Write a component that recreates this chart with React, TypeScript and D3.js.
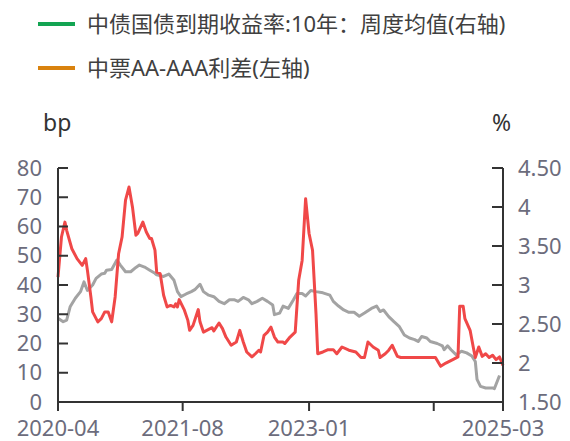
import React from 'react';
import * as d3 from 'd3';

// weekly series, week index counted from 2020-04-03
const startDate = new Date(2020, 3, 3);

// 中票AA-AAA利差 (bp, left axis)
const spreadWeek = [0, 2, 4, 5, 8, 11, 14, 16, 17, 19, 20, 23, 25, 27, 29, 31, 33, 35, 37, 39, 41, 43, 45, 46, 49, 51, 53, 54, 56, 57, 59, 61, 63, 65, 67, 68, 69, 70, 73, 75, 76, 78, 81, 82, 84, 87, 89, 90, 93, 95, 97, 100, 103, 105, 107, 109, 112, 114, 116, 117, 119, 121, 123, 125, 127, 130, 131, 134, 137, 139, 141, 143, 145, 147, 149, 150, 153, 156, 159, 161, 164, 168, 172, 175, 177, 179, 182, 185, 186, 189, 191, 193, 196, 198, 218, 221, 224, 228, 231, 232, 234, 235, 238, 240, 241, 243, 245, 247, 249, 251, 253, 255, 257];
const spreadBp = [42.7, 56.4, 61.5, 58.7, 52.4, 49, 46.7, 49, 45, 35.9, 30.8, 27.4, 28.5, 30.8, 30.8, 27.4, 35.9, 50.7, 56.4, 69, 73.5, 66.7, 57, 57.6, 61.5, 58.1, 55.9, 55.9, 51.9, 44.4, 43.9, 36.5, 32.5, 33, 32.5, 33.6, 32.5, 35, 31.4, 27.9, 24.5, 26.2, 31.6, 27.4, 23.9, 24.8, 25.4, 24.3, 27, 25.1, 22.2, 19.4, 20.5, 24.5, 20.5, 17.1, 15.4, 16.5, 17.7, 17.1, 22.8, 23.9, 25.6, 22.2, 20.5, 20.5, 20, 22.2, 23.9, 41.6, 48.4, 69.5, 57.6, 51.9, 30.2, 16.5, 17.1, 17.9, 17.9, 16.5, 18.8, 17.7, 17.1, 15.2, 15.2, 20.5, 18.8, 17.7, 15.2, 16.5, 17.7, 19.4, 15.6, 15.2, 15.2, 12.2, 13.3, 14.5, 15.4, 32.7, 32.7, 28.5, 24.5, 18.2, 15.2, 18.8, 15.6, 16.5, 15.2, 16, 14.5, 15.4, 12.5];

// 中债国债到期收益率:10年 周度均值 (%, right axis)
const yieldWeek = [0, 3, 5, 7, 10, 13, 15, 17, 20, 22, 25, 27, 28, 31, 34, 36, 39, 42, 45, 47, 50, 53, 56, 57, 61, 64, 67, 69, 71, 74, 77, 79, 82, 84, 87, 90, 93, 96, 99, 102, 104, 107, 110, 112, 115, 118, 121, 124, 125, 128, 130, 133, 136, 138, 141, 143, 146, 149, 153, 157, 159, 162, 165, 168, 171, 174, 177, 181, 184, 186, 188, 191, 194, 197, 200, 203, 206, 208, 210, 213, 215, 219, 222, 223, 225, 227, 230, 233, 236, 239, 241, 242, 244, 247, 251, 252, 255];
const yieldPct = [2.575, 2.53, 2.55, 2.72, 2.83, 2.915, 3.04, 2.93, 3.0, 3.085, 3.14, 3.15, 3.19, 3.2, 3.32, 3.255, 3.17, 3.17, 3.225, 3.255, 3.23, 3.19, 3.15, 3.13, 3.11, 3.14, 3.06, 2.915, 2.85, 2.885, 2.915, 2.94, 3.01, 2.915, 2.87, 2.85, 2.79, 2.76, 2.81, 2.81, 2.79, 2.84, 2.81, 2.76, 2.79, 2.83, 2.79, 2.745, 2.62, 2.64, 2.73, 2.7, 2.81, 2.89, 2.89, 2.86, 2.93, 2.915, 2.9, 2.87, 2.79, 2.73, 2.68, 2.65, 2.65, 2.6, 2.64, 2.7, 2.73, 2.66, 2.68, 2.595, 2.53, 2.47, 2.36, 2.32, 2.3, 2.275, 2.34, 2.32, 2.275, 2.25, 2.22, 2.17, 2.22, 2.17, 2.105, 2.15, 2.13, 2.09, 2.02, 1.79, 1.7, 1.68, 1.68, 1.67, 1.84];

const xTickWeeks = [0, 72, 145, 217, 257];
const xTickShown = [true, true, true, false, true];
const leftTicks = [0, 10, 20, 30, 40, 50, 60, 70, 80];
const rightTicks = [1.5, 2, 2.5, 3, 3.5, 4, 4.5];
const rightTickLabels = ['1.50', '2', '2.50', '3', '3.50', '4', '4.50'];

const legendItems = [
  { label: '中债国债到期收益率:10年：周度均值(右轴)', color: '#13a452' },
  { label: '中票AA-AAA利差(左轴)', color: '#d9820e' },
];

const weekDate = (w: number) => d3.timeWeek.offset(startDate, w);

export default function App() {
  const width = 570;
  const height = 441;
  const margin = { top: 168, right: 67, bottom: 39, left: 58 };
  const font = '"Noto Sans", "Noto Sans CJK SC", sans-serif';
  const tickColor = '#6c6c7c';

  const x = d3
    .scaleTime()
    .domain([startDate, weekDate(257)])
    .range([margin.left, width - margin.right]);
  const yLeft = d3.scaleLinear().domain([0, 80]).range([height - margin.bottom, margin.top]);
  const yRight = d3.scaleLinear().domain([1.5, 4.5]).range([height - margin.bottom, margin.top]);

  const spreadLine = d3
    .line<number>()
    .x((w) => x(weekDate(w)))
    .y((_, i) => yLeft(spreadBp[i]));
  const yieldLine = d3
    .line<number>()
    .x((w) => x(weekDate(w)))
    .y((_, i) => yRight(yieldPct[i]));

  const fmt = d3.timeFormat('%Y-%m');
  const x0 = margin.left;
  const x1 = width - margin.right;
  const yb = height - margin.bottom;

  return (
    <svg width={width} height={height} style={{ position: 'absolute', left: 0, top: 0 }} fontFamily={font}>
      <rect width={width} height={height} fill="white" />

      {/* legend */}
      {legendItems.map((d, i) => (
        <g key={d.label} transform={`translate(38,${24 + i * 44})`}>
          <line x1={0} x2={37} y1={0} y2={0} stroke={d.color} strokeWidth={4} />
          <text x={49} y={0} dy="0.35em" fontSize={22} fill="#404040">
            {d.label}
          </text>
        </g>
      ))}

      {/* axis titles */}
      <text x={43} y={131} fontSize={23} fill="#333">bp</text>
      <text x={492} y={131} fontSize={23} fill="#333">%</text>

      {/* series */}
      <path d={yieldLine(yieldWeek) ?? ''} fill="none" stroke="#a3a3a3" strokeWidth={3} strokeLinejoin="round" />
      <path d={spreadLine(spreadWeek) ?? ''} fill="none" stroke="#f04848" strokeWidth={3} strokeLinejoin="round" />

      {/* left axis */}
      <line x1={x0} x2={x0} y1={margin.top} y2={yb} stroke="#333" strokeWidth={2} />
      {leftTicks.map((t) => (
        <g key={t}>
          <line x1={x0} x2={x0 + 10} y1={yLeft(t)} y2={yLeft(t)} stroke="#333" strokeWidth={2} />
          <text x={x0 - 16} y={yLeft(t)} dy="0.35em" textAnchor="end" fontSize={22} fill={tickColor}>
            {t}
          </text>
        </g>
      ))}

      {/* right axis */}
      <line x1={x1} x2={x1} y1={margin.top} y2={yb} stroke="#333" strokeWidth={2} />
      {rightTicks.map((t, i) => (
        <g key={t}>
          <line x1={x1 - 11} x2={x1} y1={yRight(t)} y2={yRight(t)} stroke="#333" strokeWidth={2} />
          <text x={x1 + 15} y={yRight(t)} dy="0.35em" textAnchor="start" fontSize={22} fill={tickColor}>
            {rightTickLabels[i]}
          </text>
        </g>
      ))}

      {/* bottom axis */}
      <line x1={x0} x2={x1} y1={yb} y2={yb} stroke="#333" strokeWidth={2} />
      {xTickWeeks.map((w, i) => (
        <g key={w}>
          <line x1={x(weekDate(w))} x2={x(weekDate(w))} y1={yb} y2={yb + 9} stroke="#333" strokeWidth={2} />
          {xTickShown[i] && (
            <text x={x(weekDate(w))} y={yb + 26} dy="0.35em" textAnchor="middle" fontSize={22} fill={tickColor}>
              {fmt(weekDate(w))}
            </text>
          )}
        </g>
      ))}
    </svg>
  );
}
